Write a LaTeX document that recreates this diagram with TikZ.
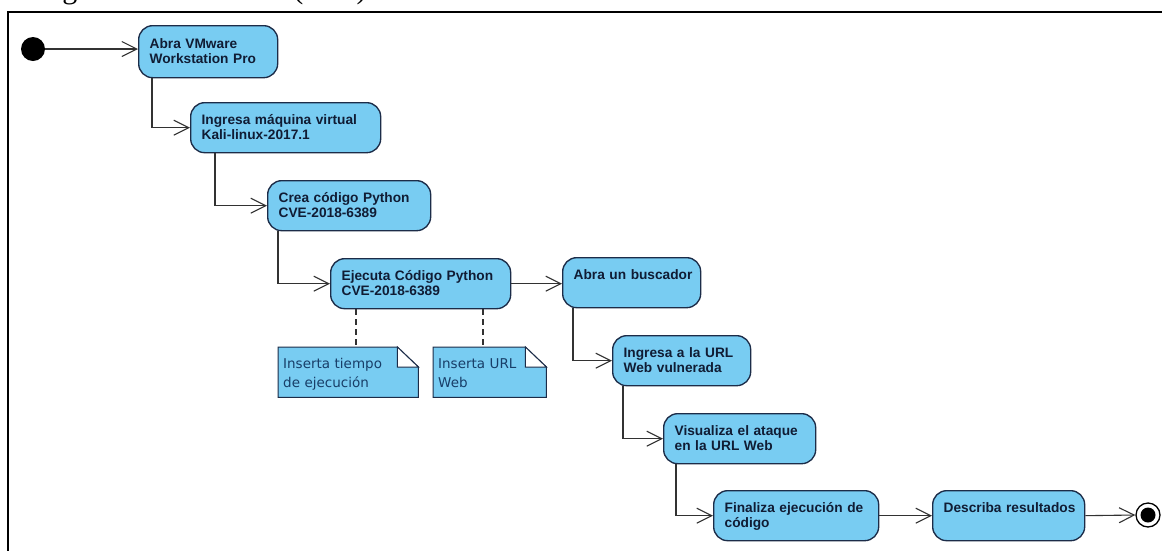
\documentclass[tikz,border=0pt]{standalone}
\usepackage{fontspec}
\setmainfont{Liberation Serif}
\setsansfont{Liberation Sans}
\newfontfamily\notefont{DejaVu Sans}
\usetikzlibrary{arrows.meta,calc,backgrounds}

\definecolor{actfill}{RGB}{120,204,242}
\definecolor{actline}{RGB}{28,44,72}
\definecolor{acttext}{RGB}{16,28,52}
\definecolor{notetext}{RGB}{24,62,104}
\definecolor{flowline}{RGB}{50,50,50}

\tikzset{
  act/.style={draw=actline, fill=actfill, line width=1.35pt, rounded corners=14pt,
    anchor=north west, minimum height=50pt, inner xsep=11pt, inner ysep=12pt,
    text height=10pt, text depth=16pt, align=left, text=acttext,
    font=\sffamily\bfseries\fontsize{13.7}{15}\selectfont},
  notetxt/.style={anchor=north west, minimum height=50pt, inner xsep=5pt, inner ysep=11pt,
    text height=10pt, text depth=18pt, align=left, text=notetext,
    font=\notefont\fontsize{13.5}{19.5}\selectfont},
  noteshape/.style={draw=actline, fill=actfill, line width=1pt, line join=miter},
  flap/.style={draw=actline, fill=white, line width=1pt},
  flow/.style={draw=flowline, line width=1.1pt,
    -{Straight Barb[length=15pt,width=15pt,line width=1.1pt]}},
  anchorline/.style={draw=flowline, line width=1.1pt, dash pattern=on 6pt off 4pt},
}

\begin{document}
\begin{tikzpicture}[x=1pt,y=-1pt]
\useasboundingbox (0,0) rectangle (1162,550);
\clip (0,0) rectangle (1162,550);

% heading line of the surrounding page
\node[anchor=base west, inner sep=0, font=\fontsize{30}{30}\selectfont] (title) at (-1,-2)
  {Denegación de Servicio (DoS).};

% outer frame
\draw[line width=2.6pt] (8,12) rectangle (1190,580);

% initial and final states
\node[circle, fill=black, minimum size=24pt, inner sep=0] (start) at (33,49) {};
\node[circle, draw=black, fill=white, line width=1.3pt, minimum size=24pt, inner sep=0] (end) at (1148,515) {};
\node[circle, fill=black, minimum size=15pt, inner sep=0] (enddot) at (end) {};

% actions
\node[act, minimum height=52pt, text width=117pt] (n1) at (138,25) {Abra VMware\\Workstation Pro};
\node[act, text width=168pt] (n2) at (190,102) {Ingresa máquina virtual\\Kali-linux-2017.1};
\node[act, minimum height=48pt, text width=141pt] (n3) at (267,180) {Crea código Python\\CVE-2018-6389};
\node[act, minimum height=49pt, text width=158pt] (n4) at (330,258) {Ejecuta Código Python\\CVE-2018-6389};
\node[act, text width=116pt] (n5) at (562,257) {\mbox{Abra un buscador}};
\node[act, minimum height=49pt, text width=116pt] (n6) at (612,335) {Ingresa a la URL\\Web vulnerada};
\node[act, minimum height=49pt, text width=130pt] (n7) at (663,413) {Visualiza el ataque\\en la URL Web};
\node[act, text width=143pt] (n8) at (713,490) {\mbox{Finaliza ejecución de}\\código};
\node[act, minimum height=49pt, text width=130pt] (n9) at (932,490) {\mbox{Describa resultados}};

% notes
\node[notetxt, minimum width=140pt, text width=130pt] (note1) at (278,347) {Inserta tiempo\\de ejecución};
\node[notetxt, minimum width=113pt, text width=103pt] (note2) at (433,347) {Inserta URL\\Web};

\begin{pgfonlayer}{background}
  \foreach \nt in {note1,note2}{
    \draw[noteshape] (\nt.north west) -- ([xshift=-21pt]\nt.north east)
      -- ([yshift=-20pt]\nt.north east) -- (\nt.south east) -- (\nt.south west) -- cycle;
    \draw[flap] ([xshift=-21pt]\nt.north east) -- ([xshift=-21pt,yshift=-20pt]\nt.north east)
      -- ([yshift=-20pt]\nt.north east) -- cycle;
  }
\end{pgfonlayer}

% control flow
\coordinate (c1) at ([xshift=14pt]n1.south west);
\coordinate (c2) at ([xshift=25pt]n2.south west);
\coordinate (c3) at ([xshift=11pt]n3.south west);
\coordinate (c5) at ([xshift=11pt]n5.south west);
\coordinate (c6) at ([xshift=11pt]n6.south west);
\coordinate (c7) at ([xshift=13pt]n7.south west);

\draw[flow] (start.east) -- (start.east -| n1.west);
\draw[flow] (c1) |- (n2.west);
\draw[flow] (c2) |- (n3.west);
\draw[flow] (c3) |- (n4.west);
\draw[flow] (n4.east) -- (n4.east -| n5.west);
\draw[flow] (c5) |- (n6.west);
\draw[flow] (c6) |- (n7.west);
\draw[flow] (c7) |- (n8.west);
\draw[flow] (n8.east) -- (n8.east -| n9.west);
\draw[flow] (n9.east) -- (end.west);

% note anchors
\coordinate (d1) at ([xshift=26pt]n4.south west);
\coordinate (d2) at ([xshift=153pt]n4.south west);
\draw[anchorline] (d1) -- (d1 |- note1.north);
\draw[anchorline] (d2) -- (d2 |- note2.north);
\end{tikzpicture}
\end{document}
